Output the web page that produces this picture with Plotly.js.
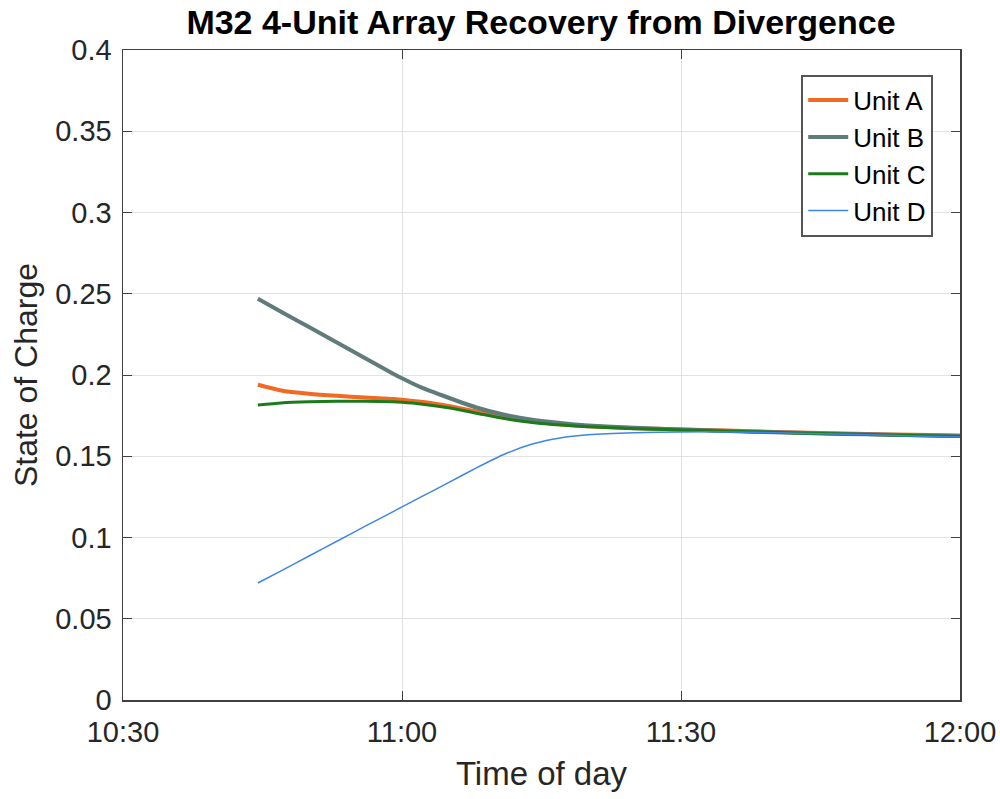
<!DOCTYPE html>
<html><head><meta charset="utf-8">
<script src="https://cdn.plot.ly/plotly-3.0.1.min.js"></script>
<style>html,body{margin:0;padding:0;background:#fff;}#chart{width:1000px;height:799px;}</style>
</head><body><div id="chart"></div>
<script>
const day = '2024-01-01 ';
const times = ['10:44:30','10:47','10:50','10:53','10:56','10:59','11:00','11:02','11:05','11:08','11:11','11:14','11:17','11:20','11:25','11:30','11:35','11:40','11:45','11:50','11:55','12:00'];
const unitA = [0.194,0.1905,0.1885,0.1872,0.1862,0.1852,0.1848,0.1835,0.181,0.1775,0.174,0.1715,0.1697,0.1685,0.1673,0.1665,0.1658,0.165,0.1643,0.1637,0.1632,0.1628];
const unitB = [0.247,0.239,0.2295,0.220,0.2105,0.201,0.198,0.1925,0.186,0.180,0.1755,0.1725,0.1705,0.169,0.1675,0.1665,0.1655,0.1648,0.164,0.1635,0.163,0.1625];
const unitC = [0.1815,0.1828,0.1835,0.1838,0.1838,0.1835,0.1832,0.1822,0.1798,0.1765,0.1732,0.1708,0.1692,0.1682,0.167,0.1662,0.1654,0.1647,0.164,0.1634,0.1628,0.1622];
const unitD = [0.072,0.0795,0.0886,0.0977,0.1068,0.1158,0.1188,0.1248,0.1338,0.1428,0.1512,0.1575,0.1613,0.1632,0.1645,0.165,0.165,0.1645,0.1638,0.1632,0.1625,0.1618];
const names = ['Unit A','Unit B','Unit C','Unit D'];
const colors = ['#F06A24','#5F7B7A','#1C7A1C','#3D86E6'];
const widths = [4,4,3,1.5];
const x = times.map(t => day + (t.length === 5 ? t + ':00' : t));
const series = [unitA, unitB, unitC, unitD];
const traces = series.map((y, i) => ({
  x: x, y: y, name: names[i], type: 'scatter', mode: 'lines',
  line: {color: colors[i], width: widths[i], shape: 'spline', smoothing: 0.6}
}));
const font = 'Liberation Sans, Arial, sans-serif';
const layout = {
  width: 1000, height: 799,
  margin: {l: 123, r: 40, t: 50, b: 99},
  paper_bgcolor: '#fff', plot_bgcolor: '#fff',
  font: {family: font, size: 29, color: '#262626'},
  title: {text: '<b>M32 4-Unit Array Recovery from Divergence</b>', font: {family: font, size: 34, color: '#000'}, x: 0.541, xanchor: 'center', y: 0.972, yanchor: 'middle'},
  xaxis: {
    type: 'date', range: [day + '10:30:00', day + '12:00:00'],
    tickformat: '%H:%M', dtick: 1800000, tick0: day + '10:30:00',
    showgrid: true, gridcolor: '#e2e2e2', gridwidth: 1,
    showline: true, linecolor: '#404040', linewidth: 1.5, mirror: 'ticks',
    ticks: 'inside', ticklen: 9, tickcolor: '#404040',
    tickfont: {size: 29, color: '#262626'},
    ticklabelstandoff: 6,
    zeroline: false,
    title: {text: 'Time of day', font: {size: 33, color: '#262626'}, standoff: 14}
  },
  yaxis: {
    range: [0, 0.4], dtick: 0.05, tick0: 0,
    showgrid: true, gridcolor: '#e2e2e2', gridwidth: 1,
    showline: true, linecolor: '#404040', linewidth: 1.5, mirror: 'ticks',
    ticks: 'inside', ticklen: 9, tickcolor: '#404040',
    tickfont: {size: 29, color: '#262626'},
    ticklabelstandoff: 4,
    zeroline: false,
    title: {text: 'State of Charge', font: {size: 32, color: '#262626'}, standoff: 8}
  },
  legend: {
    x: 0.968, xanchor: 'right', y: 0.962, yanchor: 'top',
    bgcolor: '#fff', bordercolor: '#555', borderwidth: 2,
    font: {size: 26, color: '#000'}, itemwidth: 40, tracegroupgap: 0
  },
  showlegend: true
};
Plotly.newPlot('chart', traces, layout, {displayModeBar: false, staticPlot: true});
</script>
</body></html>
